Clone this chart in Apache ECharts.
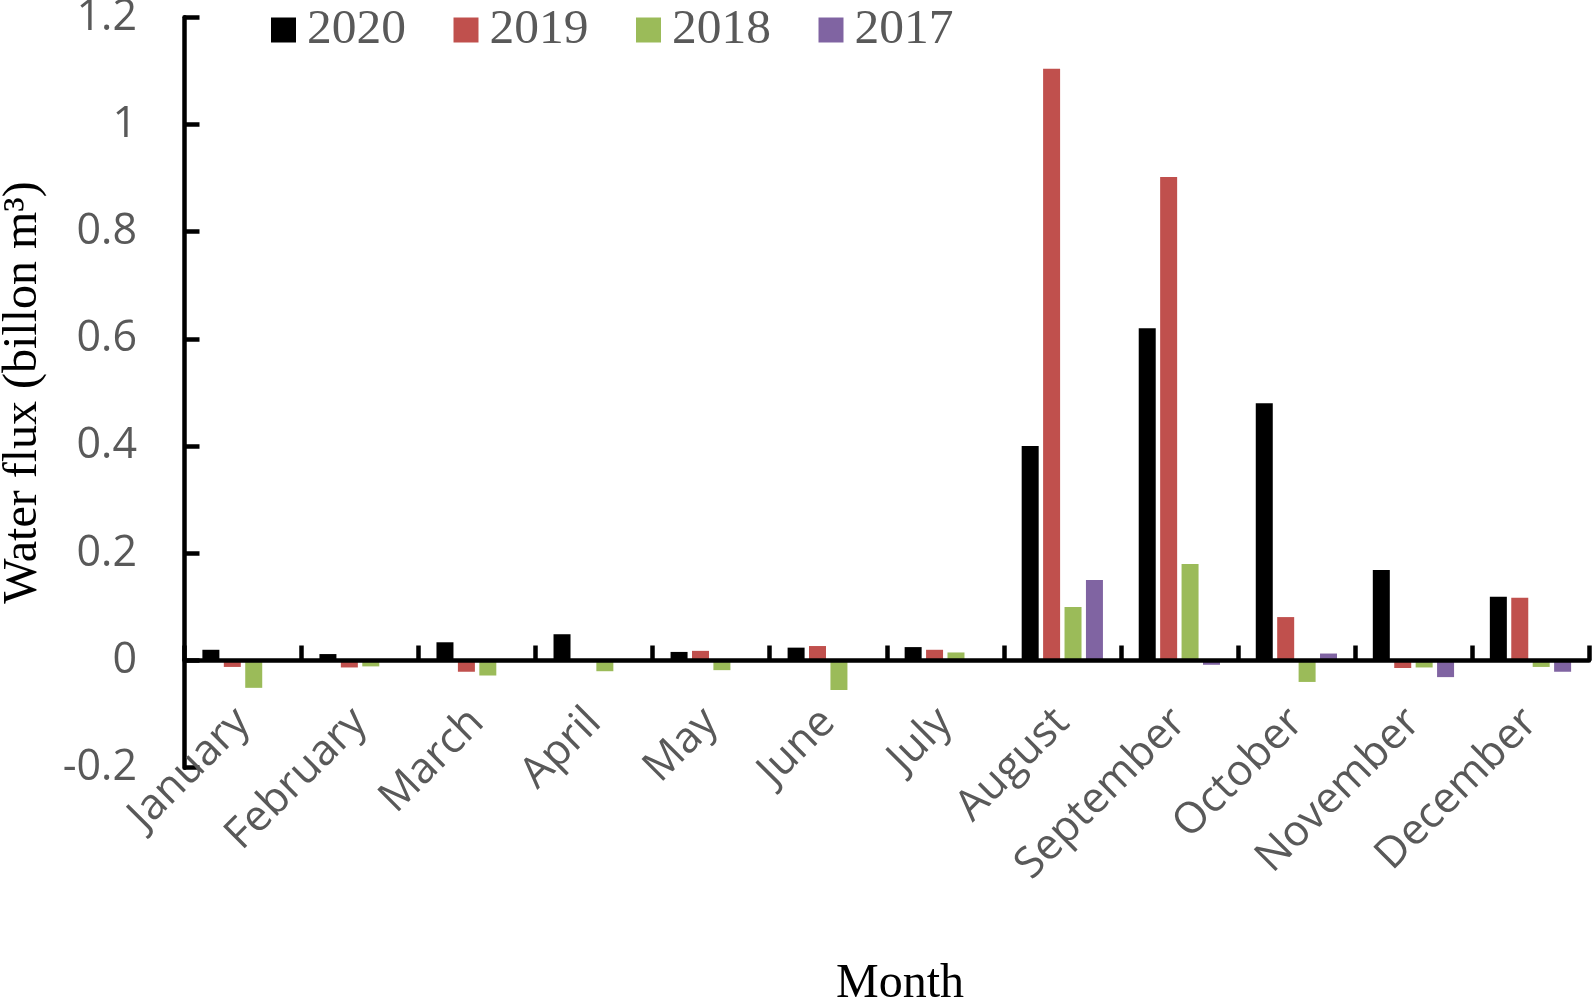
<!DOCTYPE html>
<html>
<head>
<meta charset="utf-8">
<script src="https://cdn.jsdelivr.net/npm/echarts@6/dist/echarts.min.js"></script>
<style>
html,body{margin:0;padding:0;background:#fff;}
#chart{width:1592px;height:999px;}
</style>
</head>
<body>
<div id="chart"></div>
<script>
var months = ['January','February','March','April','May','June','July','August','September','October','November','December'];
var seriesNames = ['2020','2019','2018','2017'];
var y2020 = [0.020, 0.012, 0.034, 0.049, 0.016, 0.024, 0.025, 0.400, 0.620, 0.480, 0.169, 0.119];
var y2019 = [-0.012, -0.013, -0.021, 0, 0.018, 0.027, 0.020, 1.104, 0.902, 0.081, -0.014, 0.117];
var y2018 = [-0.051, -0.011, -0.028, -0.020, -0.018, -0.055, 0.015, 0.100, 0.180, -0.040, -0.013, -0.012];
var y2017 = [0, 0, 0, 0, 0, 0, 0, 0.150, -0.008, 0.013, -0.031, -0.021];
var colors = ['#000000', '#C0504D', '#9BBB59', '#8064A2'];
var yTitle = 'Water flux (billon m³)';
var xTitle = 'Month';

var allData = [y2020, y2019, y2018, y2017];
var chart = echarts.init(document.getElementById('chart'), null, {renderer: 'canvas'});
var series = seriesNames.map(function (n, i) {
  return {
    name: n,
    type: 'bar',
    data: allData[i],
    barWidth: 17,
    barGap: '26%',
    itemStyle: {color: colors[i]},
    z: 2
  };
});
chart.setOption({
  animation: false,
  backgroundColor: '#ffffff',
  color: colors,
  title: {
    text: xTitle,
    left: 900,
    top: 960,
    textAlign: 'center',
    padding: 0,
    textStyle: {
      fontFamily: 'Liberation Serif',
      fontSize: 48,
      lineHeight: 48,
      fontWeight: 'normal',
      color: '#000'
    }
  },
  legend: {
    data: seriesNames,
    left: 271,
    top: 5,
    padding: 0,
    icon: 'rect',
    itemWidth: 25,
    itemHeight: 25,
    itemGap: 47.5,
    textStyle: {
      fontFamily: 'Liberation Serif',
      fontSize: 49.5,
      lineHeight: 48,
      color: '#595959',
      padding: [0, 0, 0, 6]
    }
  },
  grid: {
    left: 184.5,
    right: 3,
    top: 17.3,
    bottom: 231.3,
    containLabel: false,
    outerBoundsMode: 'none'
  },
  xAxis: {
    type: 'category',
    data: months,
    boundaryGap: true,
    z: 5,
    axisLine: {show: true, onZero: true, lineStyle: {color: '#000', width: 4.5}},
    axisTick: {show: true, inside: true, length: 15, interval: 0, alignWithLabel: false, lineStyle: {color: '#000', width: 4.5}},
    axisLabel: {
      interval: 0,
      rotate: 45,
      margin: -52,
      fontFamily: 'Open Sans',
      fontSize: 43,
      color: '#595959'
    },
    splitLine: {show: false}
  },
  yAxis: {
    type: 'value',
    min: -0.2,
    max: 1.2,
    interval: 0.2,
    z: 5,
    axisLine: {show: true, onZero: false, lineStyle: {color: '#000', width: 4.5}},
    axisTick: {show: true, inside: true, length: 15, lineStyle: {color: '#000', width: 4.5}},
    axisLabel: {
      margin: 47.5,
      fontFamily: 'Open Sans',
      fontSize: 43,
      color: '#595959',
      formatter: function (v) { return String(Math.round(v * 10) / 10); }
    },
    splitLine: {show: false},
    name: yTitle,
    nameLocation: 'middle',
    nameRotate: 90,
    nameGap: 137,
    nameTextStyle: {
      fontFamily: 'Liberation Serif',
      fontSize: 48,
      lineHeight: 48,
      color: '#000'
    }
  },
  series: series
});
</script>
</body>
</html>
